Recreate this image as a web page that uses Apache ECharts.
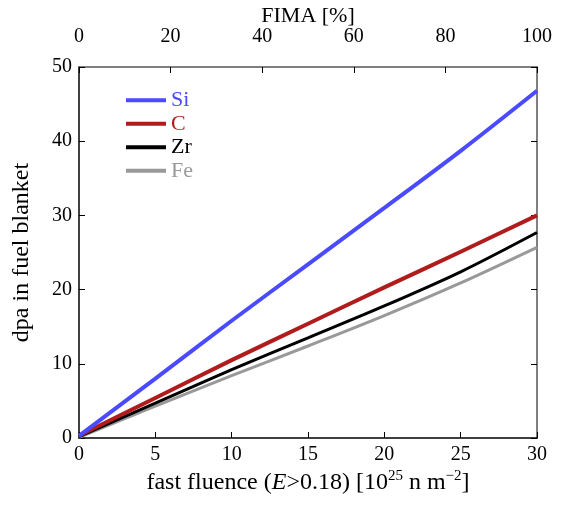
<!DOCTYPE html>
<html>
<head>
<meta charset="utf-8">
<script src="https://cdn.jsdelivr.net/npm/echarts@6/dist/echarts.min.js"></script>
<style>html,body{margin:0;padding:0;background:#fff}#c{width:565px;height:505px}</style>
</head>
<body>
<div id="c"></div>
<script>
const fluence = [0, 5, 10, 15, 20, 25, 30];
const si = [0.3, 8.0, 15.8, 23.4, 31.0, 38.7, 46.8];
const c  = [0.3, 5.4, 10.5, 15.4, 20.3, 25.1, 30.0];
const zr = [0.2, 4.7, 9.2, 13.5, 17.8, 22.4, 27.7];
const fe = [0.1, 4.3, 8.4, 12.4, 16.5, 20.9, 25.7];
const seriesNames = ['Si', 'C', 'Zr', 'Fe'];
const colors = ['#4a4aff', '#b01c1c', '#000000', '#999999'];
const widths = [4, 4, 3, 3];
const allData = [si, c, zr, fe];

const font = 'Liberation Serif';
const chart = echarts.init(document.getElementById('c'));
const pair = arr => fluence.map((x, i) => [x, arr[i]]);

chart.setOption({
  animation: false,
  backgroundColor: '#fff',
  textStyle: { fontFamily: font },
  grid: { left: 79, right: 28, top: 67, bottom: 67, outerBoundsMode: 'none', containLabel: false },
  legend: {
    orient: 'vertical', left: 126, top: 89, padding: 0,
    icon: 'rect', itemWidth: 40, itemHeight: 4, itemGap: 1,
    textStyle: { fontFamily: font, fontSize: 22, lineHeight: 22.5 },
    data: seriesNames.map((n, i) => ({ name: n, textStyle: { color: colors[i] } }))
  },
  xAxis: [
    {
      type: 'value', position: 'bottom', min: 0, max: 30, interval: 5,
      name: '{n|fast fluence (}{i|E}{n|>0.18) [10}{s|25}{n| n m}{s|−2}{n|]}',
      nameLocation: 'middle', nameGap: 31, nameMoveOverlap: false,
      nameTextStyle: {
        rich: {
          n: { fontFamily: font, fontSize: 24, color: '#000' },
          i: { fontFamily: font, fontSize: 24, fontStyle: 'italic', color: '#000' },
          s: { fontFamily: font, fontSize: 15, color: '#000', verticalAlign: 'bottom', padding: [0, 0, 12, 0] }
        }
      },
      axisLine: { onZero: false, lineStyle: { color: '#000', width: 1.5 } },
      axisTick: { inside: true, length: 6, lineStyle: { color: '#000' } },
      axisLabel: { fontFamily: font, fontSize: 20, color: '#000', margin: 7 },
      splitLine: { show: false }
    },
    {
      type: 'value', position: 'top', min: 0, max: 100, interval: 20,
      name: 'FIMA [%]', nameLocation: 'middle', nameGap: 40, nameMoveOverlap: false,
      nameTextStyle: { fontFamily: font, fontSize: 22, color: '#000' },
      axisLine: { onZero: false, lineStyle: { color: '#555', width: 1.5 } },
      axisTick: { inside: true, length: 6, lineStyle: { color: '#000' } },
      axisLabel: { fontFamily: font, fontSize: 20, color: '#000', margin: 20 },
      splitLine: { show: false }
    }
  ],
  yAxis: [
    {
      type: 'value', position: 'left', min: 0, max: 50, interval: 10,
      name: 'dpa in fuel blanket', nameLocation: 'middle', nameGap: 45, nameMoveOverlap: false,
      nameTextStyle: { fontFamily: font, fontSize: 24, color: '#000' },
      axisLine: { onZero: false, show: true, lineStyle: { color: '#000', width: 1.5 } },
      axisTick: { show: true, inside: true, length: 6, lineStyle: { color: '#000' } },
      axisLabel: { fontFamily: font, fontSize: 20, color: '#000', margin: 7 },
      splitLine: { show: false }
    },
    {
      type: 'value', position: 'right', min: 0, max: 50, interval: 10,
      axisLine: { onZero: false, show: true, lineStyle: { color: '#555', width: 1.5 } },
      axisTick: { show: true, inside: true, length: 6, lineStyle: { color: '#000' } },
      axisLabel: { show: false },
      splitLine: { show: false }
    }
  ],
  series: seriesNames.map((n, i) => ({
    name: n, type: 'line', xAxisIndex: 0, yAxisIndex: 0,
    data: pair(allData[i]), showSymbol: false, symbol: 'none', smooth: 0.3,
    lineStyle: { color: colors[i], width: widths[i] },
    itemStyle: { color: colors[i] },
    z: 10 - i
  }))
});
</script>
</body>
</html>
